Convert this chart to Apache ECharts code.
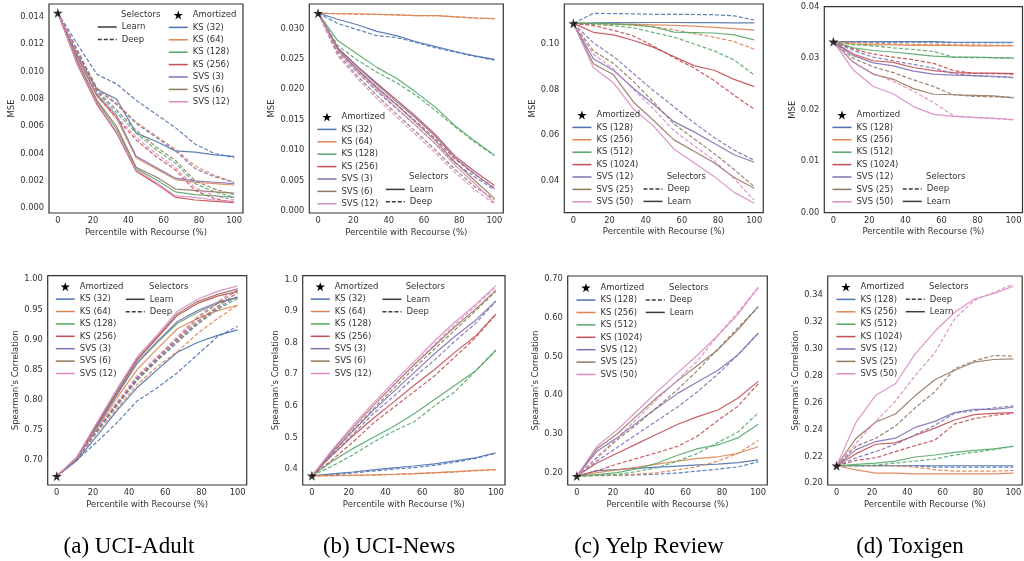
<!DOCTYPE html>
<html><head><meta charset="utf-8">
<script src="https://cdn.jsdelivr.net/npm/echarts@6/dist/echarts.min.js"></script>
<style>html,body{margin:0;padding:0;background:#fff}#c{width:1024px;height:561px}</style>
</head><body><div id="c"></div>
<script>
// ---------- DATA ----------
const xPct = [0, 11.1, 22.2, 33.3, 44.4, 55.6, 66.7, 77.8, 88.9, 100];
const xTicks = [0, 20, 40, 60, 80, 100];

const smallLabels = ['KS (32)', 'KS (64)', 'KS (128)', 'KS (256)', 'SVS (3)', 'SVS (6)', 'SVS (12)'];
const largeLabels = ['KS (128)', 'KS (256)', 'KS (512)', 'KS (1024)', 'SVS (12)', 'SVS (25)', 'SVS (50)'];
const captions = ['(a) UCI-Adult', '(b) UCI-News', '(c) Yelp Review', '(d) Toxigen'];

// (a) UCI-Adult MSE
const adultMseLearn = [
  [.0143,.0112,.0087,.0080,.0055,.0049,.0042,.0041,.0039,.0038],
  [.0143,.0110,.0082,.0066,.0037,.0029,.0021,.0019,.0018,.0017],
  [.0143,.0107,.0078,.0058,.0029,.0021,.0012,.0010,.0009,.0008],
  [.0143,.0105,.0076,.0055,.0027,.0018,.0008,.0006,.0005,.0004],
  [.0143,.0111,.0083,.0068,.0038,.0030,.0022,.0020,.0019,.0018],
  [.0143,.0108,.0079,.0060,.0030,.0023,.0014,.0013,.0012,.0011],
  [.0143,.0106,.0077,.0056,.0028,.0019,.0009,.0008,.0006,.0005]
];
const adultMseDeep = [
  [.0143,.0120,.0098,.0091,.0079,.0069,.0059,.0047,.0040,.0037],
  [.0143,.0116,.0088,.0077,.0063,.0053,.0043,.0031,.0024,.0019],
  [.0143,.0114,.0085,.0070,.0055,.0043,.0033,.0018,.0012,.0008],
  [.0143,.0113,.0083,.0066,.0050,.0038,.0028,.0013,.0007,.0004],
  [.0143,.0115,.0087,.0076,.0062,.0052,.0042,.0029,.0023,.0019],
  [.0143,.0114,.0086,.0072,.0057,.0045,.0035,.0020,.0014,.0010],
  [.0143,.0113,.0084,.0067,.0052,.0040,.0030,.0015,.0009,.0006]
];
const adultMseTicks = [0, 0.002, 0.004, 0.006, 0.008, 0.010, 0.012, 0.014];

// (b) UCI-News MSE
const newsMseLearn = [
  [.0325,.0315,.0306,.0295,.0288,.0278,.0270,.0262,.0255,.0249],
  [.0325,.0324,.0324,.0323,.0322,.0321,.0321,.0319,.0317,.0316],
  [.0325,.0280,.0258,.0236,.0218,.0195,.0170,.0140,.0115,.0092],
  [.0325,.0268,.0238,.0210,.0183,.0155,.0125,.0090,.0065,.0042],
  [.0325,.0268,.0237,.0208,.0180,.0152,.0122,.0087,.0061,.0037],
  [.0325,.0266,.0233,.0203,.0175,.0145,.0115,.0080,.0050,.0021],
  [.0325,.0264,.0230,.0200,.0170,.0140,.0110,.0075,.0045,.0014]
];
const newsMseDeep = [
  [.0325,.0308,.0298,.0288,.0285,.0277,.0268,.0261,.0254,.0248],
  [.0325,.0324,.0323,.0323,.0322,.0321,.0321,.0319,.0317,.0316],
  [.0325,.0272,.0248,.0228,.0211,.0190,.0165,.0138,.0113,.0091],
  [.0325,.0265,.0232,.0203,.0175,.0147,.0118,.0085,.0060,.0038],
  [.0325,.0262,.0228,.0197,.0168,.0140,.0110,.0079,.0056,.0035],
  [.0325,.0258,.0222,.0190,.0160,.0130,.0100,.0068,.0040,.0019],
  [.0325,.0255,.0218,.0185,.0155,.0125,.0095,.0063,.0035,.0012]
];
const newsMseTicks = [0, 0.005, 0.010, 0.015, 0.020, 0.025, 0.030];

// (c) Yelp MSE
const yelpMseLearn = [
  [.109,.1092,.1093,.1093,.1094,.1094,.1093,.1093,.1092,.1092],
  [.109,.1090,.1088,.1086,.1084,.1081,.1078,.1073,.1067,.1061],
  [.109,.1090,.1088,.1083,.1075,.1052,.1050,.1048,.1040,.1018],
  [.109,.1051,.1040,.1015,.0985,.0945,.0905,.0885,.0845,.0813],
  [.109,.0935,.0885,.0805,.0735,.0660,.0615,.0565,.0515,.0482],
  [.109,.0913,.0865,.0745,.0665,.0580,.0530,.0480,.0415,.0368],
  [.109,.0896,.0830,.0715,.0640,.0540,.0480,.0420,.0350,.0302]
];
const yelpMseDeep = [
  [.109,.1134,.1133,.1132,.1130,.1130,.1129,.1128,.1123,.1105],
  [.109,.1088,.1086,.1082,.1075,.1062,.1045,.1030,.1010,.0977],
  [.109,.1085,.1080,.1070,.1050,.1030,.1000,.0970,.0930,.0864],
  [.109,.1080,.1060,.1035,.0990,.0940,.0895,.0840,.0775,.0714],
  [.109,.1005,.0945,.0870,.0795,.0725,.0655,.0590,.0535,.0490],
  [.109,.0970,.0915,.0835,.0745,.0650,.0585,.0520,.0450,.0375],
  [.109,.0955,.0890,.0800,.0715,.0620,.0555,.0490,.0410,.0315]
];
const yelpMseTicks = [0.04, 0.06, 0.08, 0.10];

// (d) Toxigen MSE
const toxMseLearn = [
  [.0332,.0332,.0332,.0332,.0332,.0332,.0331,.0331,.0331,.0331],
  [.0332,.0328,.0326,.0326,.0325,.0325,.0325,.0324,.0324,.0324],
  [.0332,.0320,.0315,.0312,.0308,.0304,.0302,.0302,.0301,.0300],
  [.0332,.0308,.0295,.0292,.0282,.0276,.0272,.0271,.0271,.0270],
  [.0332,.0305,.0291,.0285,.0275,.0269,.0267,.0266,.0265,.0263],
  [.0332,.0292,.0269,.0259,.0241,.0230,.0229,.0228,.0227,.0223],
  [.0332,.0277,.0245,.0231,.0206,.0191,.0187,.0185,.0183,.0181]
];
const toxMseDeep = [
  [.0332,.0331,.0331,.0331,.0331,.0331,.0330,.0330,.0330,.0330],
  [.0332,.0330,.0329,.0328,.0327,.0327,.0326,.0326,.0325,.0325],
  [.0332,.0326,.0324,.0320,.0317,.0313,.0302,.0301,.0301,.0300],
  [.0332,.0318,.0308,.0302,.0297,.0290,.0276,.0271,.0270,.0269],
  [.0332,.0315,.0302,.0295,.0288,.0281,.0270,.0266,.0264,.0262],
  [.0332,.0300,.0283,.0272,.0258,.0245,.0229,.0226,.0225,.0224],
  [.0332,.0293,.0270,.0255,.0236,.0214,.0188,.0185,.0183,.0180]
];
const toxMseTicks = [0, 0.01, 0.02, 0.03, 0.04];

// (a) UCI-Adult Spearman
const adultSpLearn = [
  [.673,.699,.740,.782,.820,.850,.879,.895,.907,.916],
  [.673,.702,.752,.803,.850,.885,.918,.935,.948,.957],
  [.673,.703,.755,.808,.860,.895,.927,.945,.960,.970],
  [.673,.704,.758,.812,.866,.903,.940,.960,.972,.980],
  [.673,.703,.756,.809,.862,.897,.930,.948,.962,.970],
  [.673,.704,.760,.815,.868,.905,.943,.963,.975,.984],
  [.673,.705,.762,.818,.871,.908,.947,.967,.980,.989]
];
const adultSpDeep = [
  [.673,.700,.730,.762,.798,.820,.845,.875,.905,.922],
  [.673,.701,.745,.785,.825,.855,.880,.910,.935,.957],
  [.673,.702,.748,.790,.832,.865,.895,.925,.950,.968],
  [.673,.703,.750,.793,.835,.868,.900,.930,.955,.978],
  [.673,.702,.749,.791,.833,.866,.897,.927,.952,.972],
  [.673,.703,.751,.794,.837,.870,.902,.935,.960,.982],
  [.673,.704,.752,.796,.840,.872,.905,.938,.963,.985]
];
const adultSpTicks = [0.70, 0.75, 0.80, 0.85, 0.90, 0.95, 1.00];

// (b) UCI-News Spearman
const newsSpLearn = [
  [.379,.385,.391,.398,.404,.410,.417,.426,.436,.452],
  [.379,.380,.381,.382,.384,.386,.389,.392,.396,.399],
  [.379,.425,.465,.500,.535,.575,.620,.665,.710,.775],
  [.379,.445,.505,.560,.612,.665,.715,.770,.820,.890],
  [.379,.452,.520,.585,.645,.705,.765,.820,.870,.932],
  [.379,.458,.530,.600,.665,.730,.790,.850,.905,.965],
  [.379,.462,.538,.608,.675,.740,.805,.865,.920,.980]
];
const newsSpDeep = [
  [.379,.382,.388,.394,.400,.405,.412,.422,.434,.450],
  [.379,.379,.380,.381,.383,.385,.388,.391,.395,.398],
  [.379,.410,.445,.485,.520,.550,.600,.645,.710,.777],
  [.379,.430,.485,.545,.595,.645,.695,.755,.815,.888],
  [.379,.445,.510,.575,.630,.690,.745,.805,.860,.930],
  [.379,.452,.522,.590,.655,.720,.780,.840,.900,.962],
  [.379,.458,.530,.600,.668,.732,.795,.857,.915,.975]
];
const newsSpTicks = [0.4, 0.5, 0.6, 0.7, 0.8, 0.9, 1.0];

// (c) Yelp Spearman
const yelpSpLearn = [
  [.191,.205,.208,.211,.214,.217,.220,.222,.226,.233],
  [.191,.200,.207,.214,.222,.230,.237,.241,.250,.267],
  [.191,.195,.200,.210,.225,.245,.262,.272,.290,.325],
  [.191,.225,.250,.275,.300,.325,.345,.362,.393,.436],
  [.191,.255,.290,.330,.368,.405,.435,.465,.505,.561],
  [.191,.262,.300,.348,.395,.438,.478,.518,.570,.630],
  [.191,.268,.310,.360,.410,.458,.505,.555,.610,.680]
];
const yelpSpDeep = [
  [.191,.193,.193,.194,.196,.199,.204,.209,.215,.228],
  [.191,.192,.193,.196,.200,.207,.216,.230,.250,.283],
  [.191,.193,.195,.203,.213,.230,.250,.278,.305,.355],
  [.191,.205,.222,.237,.252,.268,.295,.335,.372,.430],
  [.191,.230,.265,.300,.335,.370,.410,.455,.505,.560],
  [.191,.238,.285,.325,.370,.415,.465,.520,.575,.628],
  [.191,.240,.290,.340,.390,.440,.490,.555,.615,.678]
];
const yelpSpTicks = [0.20, 0.30, 0.40, 0.50, 0.60, 0.70];

// (d) Toxigen Spearman
const toxSpLearn = [
  [.213,.213,.213,.213,.213,.213,.213,.213,.213,.213],
  [.213,.210,.2075,.2075,.207,.207,.207,.207,.207,.2075],
  [.213,.214,.215,.2165,.2195,.221,.223,.2245,.2255,.2275],
  [.213,.222,.229,.230,.2355,.241,.247,.251,.252,.2525],
  [.213,.225,.231,.2335,.2415,.246,.2525,.255,.255,.2565],
  [.213,.2335,.2455,.2515,.265,.277,.284,.290,.292,.2925],
  [.213,.2455,.2655,.274,.296,.313,.327,.337,.341,.3465]
];
const toxSpDeep = [
  [.213,.213,.213,.213,.213,.212,.212,.212,.212,.212],
  [.213,.213,.213,.213,.212,.210,.209,.209,.209,.2095],
  [.213,.213,.2135,.215,.2165,.218,.221,.223,.225,.2275],
  [.213,.217,.219,.2235,.228,.232,.244,.248,.2505,.252],
  [.213,.219,.2235,.229,.236,.243,.252,.254,.256,.2575],
  [.213,.2275,.2335,.2425,.256,.268,.285,.291,.295,.2945],
  [.213,.230,.246,.261,.280,.297,.322,.336,.342,.348]
];
const toxSpTicks = [0.20, 0.22, 0.24, 0.26, 0.28, 0.30, 0.32, 0.34];

// ---------- STYLE / LAYOUT ----------
const palette = ['#4C72B0', '#DD8452', '#55A868', '#C44E52', '#8172B3', '#937860', '#DA8BC3'];
const FONT = 'DejaVu Sans';
const TXT = '#333';
const STAR = 'path://M50,2 L61.2,36 L97,36 L68,57.5 L79,92 L50,70.5 L21,92 L32,57.5 L3,36 L38.8,36 Z';

const panels = [
  {id:'a1', labels:smallLabels, learn:adultMseLearn, deep:adultMseDeep, ticks:adultMseTicks, dec:3, yMin:-0.00035, yMax:0.01495, yName:'MSE',
   grid:{left:49, top:4, width:194, height:209}, nameGap:30.7, leg:{left:168, row:15}, sel:{left:97, row:27, header:15, order:['Learn','Deep']}},
  {id:'b1', labels:smallLabels, learn:newsMseLearn, deep:newsMseDeep, ticks:newsMseTicks, dec:3, yMin:-0.0003, yMax:0.0340, yName:'MSE',
   grid:{left:309.3, top:4, width:194, height:209}, nameGap:31, leg:{left:316.7, row:117}, sel:{left:385, row:189.4, header:177, order:['Learn','Deep']}},
  {id:'c1', labels:largeLabels, learn:yelpMseLearn, deep:yelpMseDeep, ticks:yelpMseTicks, dec:2, yMin:0.0261, yMax:0.1175, yName:'MSE',
   grid:{left:564.3, top:4, width:199, height:208.7}, nameGap:26.6, leg:{left:571.7, row:115}, sel:{left:642.7, row:189, header:177, order:['Deep','Learn']}},
  {id:'d1', labels:largeLabels, learn:toxMseLearn, deep:toxMseDeep, ticks:toxMseTicks, dec:2, yMin:0, yMax:0.04, yName:'MSE',
   grid:{left:824.3, top:6.7, width:198.2, height:206}, nameGap:26, leg:{left:831.7, row:115}, sel:{left:902, row:189, header:177, order:['Deep','Learn']}},
  {id:'a2', labels:smallLabels, learn:adultSpLearn, deep:adultSpDeep, ticks:adultSpTicks, dec:2, yMin:0.6585, yMax:1.006, yName:"Spearman's Correlation",
   grid:{left:47.7, top:275.7, width:199, height:209.3}, nameGap:24.4, leg:{left:55, row:286.7}, sel:{left:125, row:299.3, header:286.7, order:['Learn','Deep']}},
  {id:'b2', labels:smallLabels, learn:newsSpLearn, deep:newsSpDeep, ticks:newsSpTicks, dec:1, yMin:0.350, yMax:1.0115, yName:"Spearman's Correlation",
   grid:{left:302.7, top:275.7, width:202.3, height:209.3}, nameGap:20, leg:{left:310, row:286.7}, sel:{left:381.7, row:299.3, header:286.7, order:['Learn','Deep']}},
  {id:'c2', labels:largeLabels, learn:yelpSpLearn, deep:yelpSpDeep, ticks:yelpSpTicks, dec:2, yMin:0.168, yMax:0.7086, yName:"Spearman's Correlation",
   grid:{left:567.7, top:276, width:199.6, height:209}, nameGap:24.4, leg:{left:575.7, row:287.7}, sel:{left:645, row:300, header:287.7, order:['Deep','Learn']}},
  {id:'d2', labels:largeLabels, learn:toxSpLearn, deep:toxSpDeep, ticks:toxSpTicks, dec:2, yMin:0.1987, yMax:0.3541, yName:"Spearman's Correlation",
   grid:{left:827.7, top:276, width:194.5, height:209}, nameGap:26, leg:{left:835.7, row:287}, sel:{left:905, row:299.3, header:287, order:['Deep','Learn']}}
];
const captionPos = [[129, 547], [389, 547], [649, 547], [910, 547]];

const ROW = 12.4;
const option = {animation:false, backgroundColor:'#fff', grid:[], xAxis:[], yAxis:[], series:[], legend:[], graphic:[]};

panels.forEach((p, i) => {
  option.grid.push(Object.assign({show:true, borderColor:'#333', borderWidth:1.2, backgroundColor:'transparent', containLabel:false, outerBoundsMode:'none'}, p.grid));
  option.xAxis.push({
    type:'value', gridIndex:i, min:-5, max:105,
    name:'Percentile with Recourse (%)', nameLocation:'middle', nameGap:15,
    nameTextStyle:{fontSize:8.5, color:TXT, fontFamily:FONT},
    axisLine:{show:false}, axisTick:{show:false}, splitLine:{show:false},
    axisLabel:{customValues:xTicks, margin:4, fontSize:8.3, color:TXT, fontFamily:FONT}
  });
  option.yAxis.push({
    type:'value', gridIndex:i, min:p.yMin, max:p.yMax,
    name:p.yName, nameLocation:'middle', nameGap:p.nameGap, nameRotate:90,
    nameTextStyle:{fontSize:8.5, color:TXT, fontFamily:FONT},
    axisLine:{show:false}, axisTick:{show:false}, splitLine:{show:false},
    axisLabel:{customValues:p.ticks, margin:5, fontSize:8.3, color:TXT, fontFamily:FONT, formatter:v => Number(v).toFixed(p.dec)}
  });
  // data series
  p.labels.forEach((lab, k) => {
    [['learn','solid'], ['deep','dashed']].forEach(([key, type]) => {
      option.series.push({
        type:'line', name:lab + '|' + p.id, xAxisIndex:i, yAxisIndex:i,
        data:xPct.map((x, j) => [x, p[key][k][j]]),
        symbol:'none', showSymbol:false, silent:true, color:palette[k],
        lineStyle:{width:1.2, type: type === 'dashed' ? [4, 2] : 'solid', opacity:0.9}, z:2
      });
    });
  });
  // selector dummy series (legend only)
  ['Learn', 'Deep'].forEach(s => {
    option.series.push({type:'line', name:s + '|' + p.id, xAxisIndex:i, yAxisIndex:i, data:[], symbol:'none', showSymbol:false, color:'#3a3a3a',
      lineStyle:{width:1.3, type: s === 'Deep' ? [4, 2] : 'solid'}});
  });
  // amortized star
  option.series.push({type:'scatter', name:'Amortized|' + p.id, xAxisIndex:i, yAxisIndex:i,
    data:[[xPct[0], p.learn[0][0]]], symbol:STAR, symbolSize:10, itemStyle:{color:'#000'}, z:10, silent:true});

  const legCommon = {orient:'vertical', padding:0, itemGap:0, itemWidth:19, itemHeight:9, selectedMode:false,
    formatter:n => n.split('|')[0], lineStyle:{width:1.5, opacity:1},
    textStyle:{fontSize:8.5, color:TXT, fontFamily:FONT, lineHeight:ROW}};
  const lineItem = n => ({name:n, itemStyle:{opacity:0, borderWidth:0}});
  option.legend.push(Object.assign({}, legCommon, {left:p.leg.left, top:p.leg.row - ROW / 2,
    data:[{name:'Amortized|' + p.id, itemStyle:{opacity:1}}].concat(p.labels.map(l => lineItem(l + '|' + p.id)))}));
  option.legend.push(Object.assign({}, legCommon, {left:p.sel.left, top:p.sel.row - ROW / 2,
    data:p.sel.order.map(s => lineItem(s + '|' + p.id))}));
  option.graphic.push({type:'text', x:p.sel.left + 24, y:p.sel.header, silent:true,
    style:{text:'Selectors', fontSize:8.5, fontFamily:FONT, fill:TXT, align:'left', verticalAlign:'middle'}});
});

captions.forEach((c, i) => {
  option.graphic.push({type:'text', x:captionPos[i][0], y:captionPos[i][1], silent:true,
    style:{text:c, fontSize:23, fontFamily:'Liberation Serif', fill:'#000', align:'center', verticalAlign:'middle'}});
});

const chart = echarts.init(document.getElementById('c'), null, {renderer:'canvas'});
chart.setOption(option);
</script></body></html>
